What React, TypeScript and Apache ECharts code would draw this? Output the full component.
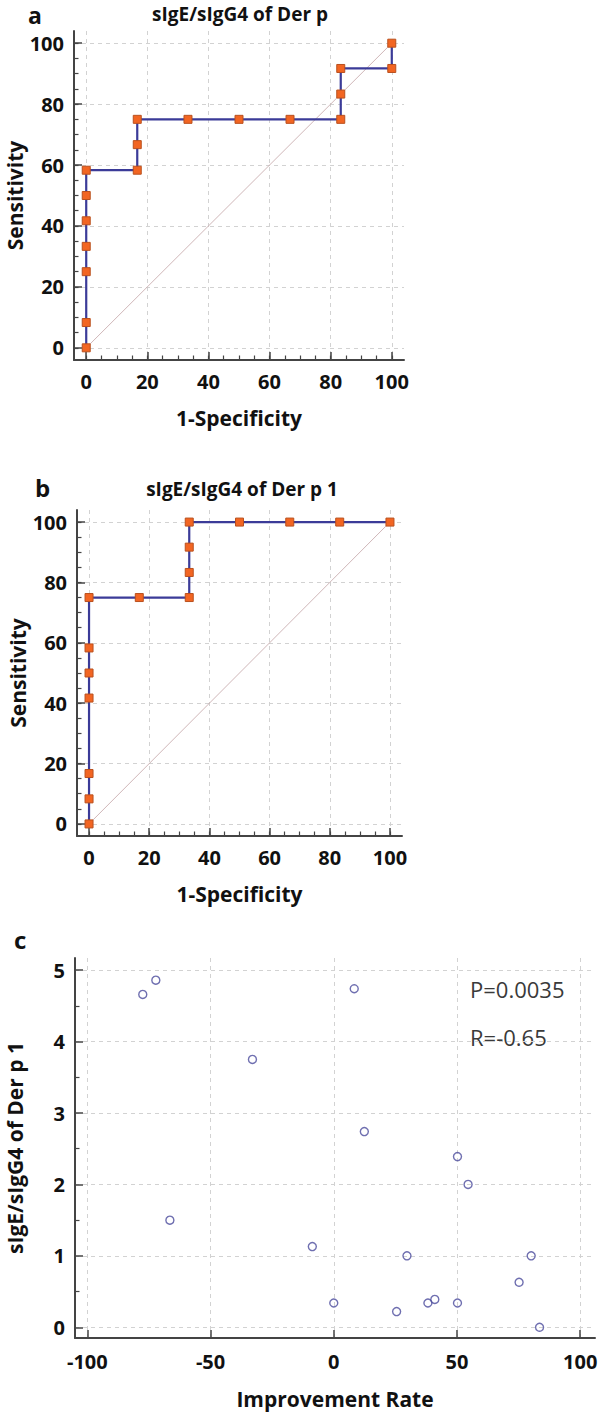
import React, { useEffect, useRef } from "react";
import * as echarts from "echarts";

// ---- Data ----
// Panel a: ROC of sIgE/sIgG4 of Der p
const rocAFpr = [0, 0, 0, 0, 0, 0, 0, 16.7, 16.7, 16.7, 33.3, 50, 66.7, 83.3, 83.3, 83.3, 100, 100];
const rocASens = [0, 8.3, 25, 33.3, 41.7, 50, 58.3, 58.3, 66.7, 75, 75, 75, 75, 75, 83.3, 91.7, 91.7, 100];
// Panel b: ROC of sIgE/sIgG4 of Der p 1
const rocBFpr = [0, 0, 0, 0, 0, 0, 0, 16.7, 33.3, 33.3, 33.3, 33.3, 50, 66.7, 83.3, 100];
const rocBSens = [0, 8.3, 16.7, 41.7, 50, 58.3, 75, 75, 75, 83.3, 91.7, 100, 100, 100, 100, 100];
// Reference diagonal
const diagX = [0, 100];
const diagY = [0, 100];
// Panel c: scatter
const improvementRate = [-77.5, -72.2, -66.5, -33, -8.7, 0, 8.3, 12.4, 25.5, 29.7, 38.2, 41, 50.2, 50.2, 54.5, 75.2, 80.1, 83.5];
const ratioDerP1 = [4.66, 4.86, 1.5, 3.75, 1.13, 0.34, 4.74, 2.74, 0.22, 1.0, 0.34, 0.39, 2.39, 0.34, 2.0, 0.63, 1.0, 0.0];

// Tick values
const rocTicks = [0, 20, 40, 60, 80, 100];
const rocMinorTicks = [0, 5, 10, 15, 20, 25, 30, 35, 40, 45, 50, 55, 60, 65, 70, 75, 80, 85, 90, 95, 100];
const scatterXTicks = [-100, -50, 0, 50, 100];
const scatterYTicks = [0, 1, 2, 3, 4, 5];
const scatterYMinorTicks = [0.5, 1.5, 2.5, 3.5, 4.5];

const FONT = "'Open Sans', sans-serif";
const AXIS_COLOR = "#444";

const zip = (xs: number[], ys: number[]) => xs.map((x, i) => [x, ys[i]]);

function mainAxis(
  dim: "x" | "y",
  gridIndex: number,
  min: number,
  max: number,
  ticks: number[],
  name: string,
  nameGap: number,
  labelMargin: number
) {
  return {
    type: "value",
    gridIndex,
    min,
    max,
    position: dim === "x" ? "bottom" : "left",
    name,
    nameLocation: "middle",
    nameGap,
    nameMoveOverlap: false,
    nameTextStyle: { fontFamily: FONT, fontWeight: "bold", fontSize: 21, color: "#111" },
    axisLine: { show: true, onZero: false, lineStyle: { color: AXIS_COLOR, width: 2 } },
    axisTick: {
      show: true,
      inside: true,
      length: 8,
      customValues: ticks,
      lineStyle: { color: AXIS_COLOR, width: 1.5 },
    },
    axisLabel: {
      show: true,
      customValues: ticks,
      margin: labelMargin,
      fontFamily: FONT,
      fontWeight: "bold",
      fontSize: 20,
      color: "#111",
      hideOverlap: false,
    },
    splitLine: { show: true, lineStyle: { type: [4, 4], color: "#d2d2d2", width: 1 } },
    minorTick: { show: false },
    minorSplitLine: { show: false },
  };
}

function minorAxis(dim: "x" | "y", gridIndex: number, min: number, max: number, ticks: number[]) {
  return {
    type: "value",
    gridIndex,
    min,
    max,
    position: dim === "x" ? "bottom" : "left",
    axisLine: { show: false, onZero: false },
    axisTick: {
      show: true,
      inside: true,
      length: 4.5,
      customValues: ticks,
      lineStyle: { color: AXIS_COLOR, width: 1.2 },
    },
    axisLabel: { show: false },
    splitLine: { show: false },
    minorTick: { show: false },
  };
}

function rocSeries(gridIdx: number, xs: number[], ys: number[]) {
  return [
    {
      type: "line",
      xAxisIndex: gridIdx * 2,
      yAxisIndex: gridIdx * 2,
      data: zip(diagX, diagY),
      symbol: "none",
      clip: false,
      lineStyle: { color: "#c9aeb0", width: 0.9 },
      z: 2,
    },
    {
      type: "line",
      xAxisIndex: gridIdx * 2,
      yAxisIndex: gridIdx * 2,
      data: zip(xs, ys),
      symbol: "rect",
      symbolSize: 8,
      showAllSymbol: true,
      clip: false,
      lineStyle: { color: "#3b3b98", width: 2.2 },
      itemStyle: { color: "#f26522", borderColor: "#b9501e", borderWidth: 1 },
      z: 3,
    },
  ];
}

function text(x: number, y: number, s: string, font: string, fill: string, align: string, vAlign: string) {
  return {
    type: "text",
    x,
    y,
    style: {
      text: s,
      font,
      fill,
      align,
      verticalAlign: vAlign,
      textAlign: align,
      textVerticalAlign: vAlign,
    },
  };
}

export default function App() {
  const ref = useRef<HTMLDivElement>(null);

  useEffect(() => {
    document.body.style.margin = "0";
    if (!ref.current) return;
    const chart = echarts.init(ref.current, undefined, { renderer: "svg" });

    const option = {
      animation: false,
      backgroundColor: "#fff",
      grid: [
        { left: 74, top: 31, width: 330, height: 329, outerBoundsMode: "none", containLabel: false },
        { left: 77, top: 510, width: 325, height: 326, outerBoundsMode: "none", containLabel: false },
        { left: 75, top: 958, width: 520, height: 380, outerBoundsMode: "none", containLabel: false },
      ],
      xAxis: [
        mainAxis("x", 0, -4, 104, rocTicks, "1-Specificity", 47, 11),
        minorAxis("x", 0, -4, 104, rocMinorTicks),
        mainAxis("x", 1, -4, 104, rocTicks, "1-Specificity", 47, 11),
        minorAxis("x", 1, -4, 104, rocMinorTicks),
        mainAxis("x", 2, -105, 106, scatterXTicks, "Improvement Rate", 50, 13),
        minorAxis("x", 2, -105, 106, []),
      ],
      yAxis: [
        mainAxis("y", 0, -4, 104, rocTicks, "Sensitivity", 49, 10),
        minorAxis("y", 0, -4, 104, rocMinorTicks),
        mainAxis("y", 1, -4, 104, rocTicks, "Sensitivity", 49, 10),
        minorAxis("y", 1, -4, 104, rocMinorTicks),
        mainAxis("y", 2, -0.15, 5.17, scatterYTicks, "sIgE/sIgG4 of Der p 1", 50, 10),
        minorAxis("y", 2, -0.15, 5.17, scatterYMinorTicks),
      ],
      series: [
        ...rocSeries(0, rocAFpr, rocASens),
        ...rocSeries(1, rocBFpr, rocBSens),
        {
          type: "scatter",
          xAxisIndex: 4,
          yAxisIndex: 4,
          data: zip(improvementRate, ratioDerP1),
          symbol: "circle",
          symbolSize: 8,
          clip: false,
          itemStyle: { color: "rgba(255,255,255,0)", borderColor: "#4b4b9c", borderWidth: 1.4 },
          z: 3,
        },
      ],
      graphic: [
        text(28, 3, "a", `bold 23px ${FONT}`, "#111", "left", "top"),
        text(240, 14, "sIgE/sIgG4 of Der p", `bold 19px ${FONT}`, "#111", "center", "middle"),
        text(35, 487, "b", `bold 24px ${FONT}`, "#111", "left", "middle"),
        text(242, 489, "sIgE/sIgG4 of Der p 1", `bold 19px ${FONT}`, "#111", "center", "middle"),
        text(14, 939, "c", `bold 24px ${FONT}`, "#111", "left", "middle"),
        text(470, 989, "P=0.0035", `22px ${FONT}`, "#3a3a3a", "left", "middle"),
        text(470, 1037, "R=-0.65", `22px ${FONT}`, "#3a3a3a", "left", "middle"),
      ],
    };

    chart.setOption(option as any);
    return () => chart.dispose();
  }, []);

  return <div ref={ref} style={{ width: 598, height: 1415 }} />;
}
